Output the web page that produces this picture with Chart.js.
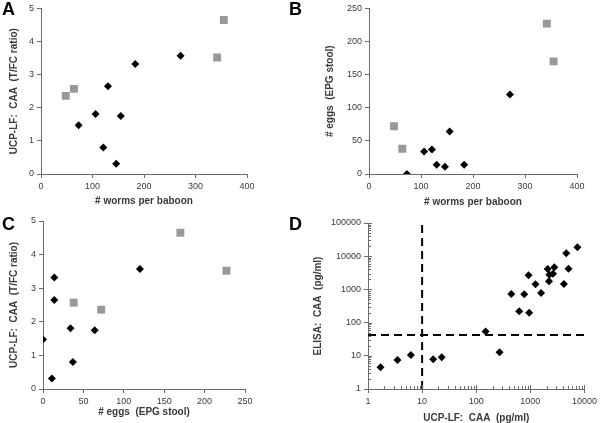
<!DOCTYPE html>
<html>
<head>
<meta charset="utf-8">
<script src="https://cdn.jsdelivr.net/npm/chart.js@4.4.1/dist/chart.umd.min.js"></script>
<style>
  html, body { margin:0; padding:0; background:#fff; }
  #wrap { position:relative; width:600px; height:423px; overflow:hidden; }
  .pane { position:absolute; }
  .lbl { position:absolute; font-family:"Liberation Sans", Arial, sans-serif; font-weight:bold; font-size:18px; line-height:18px; color:#000; }
</style>
</head>
<body>
<div id="wrap">
  <div class="pane" style="left:0;top:0;width:300px;height:210px"><canvas id="cA"></canvas></div>
  <div class="pane" style="left:300px;top:0;width:300px;height:210px"><canvas id="cB"></canvas></div>
  <div class="pane" style="left:0;top:210px;width:300px;height:213px"><canvas id="cC"></canvas></div>
  <div class="pane" style="left:300px;top:210px;width:300px;height:213px"><canvas id="cD"></canvas></div>
  <div class="lbl" style="left:2px;top:0px">A</div>
  <div class="lbl" style="left:289px;top:0px">B</div>
  <div class="lbl" style="left:2px;top:215px">C</div>
  <div class="lbl" style="left:289px;top:215px">D</div>
</div>
<script>
// ---- Data ----
// Black diamonds (baboons group 1)
const wormsBlack = [73, 106, 121, 130, 146, 155, 183, 271];
const eggsBlack  = [0, 34, 37, 14, 11, 64, 14, 120];
const ucpBlack   = [1.47, 1.81, 0.80, 2.65, 0.31, 1.75, 3.32, 3.57];
// Grey squares (baboons group 2)
const wormsGrey = [48, 64, 342, 355];
const eggsGrey  = [72, 38, 227, 170];
const ucpGrey   = [2.36, 2.57, 3.52, 4.65];
// Panel D: UCP-LF CAA vs ELISA CAA (pg/ml)
const dUcp   = [1.7, 3.5, 6.2, 16, 23, 149, 270, 445, 624, 771, 927, 951, 1245, 1578, 2091, 2208, 2248, 2618, 2773, 4160, 4603, 5070, 7413];
const dElisa = [4.5, 7.5, 10.5, 7.9, 9.0, 54, 12.8, 726, 218, 711, 2667, 198, 1426, 778, 4130, 1757, 2780, 2980, 4656, 1455, 12330, 4220, 18700];
const dCutX = 10;
const dCutY = 42;
// Axis titles
const tWorms = '# worms per baboon';
const tUcp = 'UCP-LF:  CAA  (T/FC ratio)';
const tEggs = '# eggs  (EPG stool)';
const tEggsC = '# eggs  (EPG stool)';
const tElisa = 'ELISA:  CAA  (pg/ml)';
const tUcpD = 'UCP-LF:  CAA  (pg/ml)';

const FONT = '"Liberation Sans", Arial, sans-serif';
const AXIS = '#6b6b6b';
const TXT = '#3a3a3a';
const BLACK = '#000000';
const GREY = '#999999';

function pts(xs, ys){ return xs.map((x,i)=>({x:x, y:ys[i]})); }

function linAxis(min, max, step, title, titlePad, fixed, isX){
  return {
    type:'linear', min:min, max:max,
    ticks:{ stepSize:step, color:TXT, font:{family:FONT, size:9}, padding:3, maxRotation:0, minRotation:0 },
    grid:{ display:true, drawOnChartArea:false, drawTicks:true, tickLength:4, color:AXIS },
    border:{ display:true, color:AXIS, width:1 },
    title:{ display:true, text:title, color:TXT, font:{family:FONT, size:10, weight:'bold', lineHeight:1.2}, padding:titlePad },
    afterFit:(s)=>{ if(isX) s.height = fixed; else s.width = fixed; }
  };
}

function scatterSets(xb, yb, xg, yg){
  return [
    { data: pts(xb, yb), pointStyle:'rectRot', pointRadius:4, backgroundColor:BLACK, borderColor:BLACK, borderWidth:0 },
    { data: pts(xg, yg), pointStyle:'rect', pointRadius:5.6, backgroundColor:GREY, borderColor:GREY, borderWidth:0 }
  ];
}

function baseOpts(pad, scales){
  return {
    responsive:true, maintainAspectRatio:false, animation:false, devicePixelRatio:1,
    layout:{ padding: pad },
    plugins:{ legend:{display:false}, tooltip:{enabled:false} },
    scales: scales
  };
}

// Panel A
new Chart(document.getElementById('cA'), {
  type:'scatter',
  data:{ datasets: scatterSets(wormsBlack, ucpBlack, wormsGrey, ucpGrey) },
  options: baseOpts({left:0, top:6, right:53, bottom:0}, {
    x: linAxis(0, 400, 100, tWorms, {top:0, bottom:3}, 36, true),
    y: linAxis(0, 5, 1, tUcp, {top:8, bottom:0}, 41, false)
  })
});

// Panel B
new Chart(document.getElementById('cB'), {
  type:'scatter',
  data:{ datasets: scatterSets(wormsBlack, eggsBlack, wormsGrey, eggsGrey) },
  options: baseOpts({left:0, top:5, right:23, bottom:0}, {
    x: linAxis(0, 400, 100, tWorms, {top:0, bottom:2}, 36, true),
    y: linAxis(0, 250, 50, tEggs, {top:24, bottom:0}, 69, false)
  })
});

// Panel C
new Chart(document.getElementById('cC'), {
  type:'scatter',
  data:{ datasets: scatterSets(eggsBlack, ucpBlack, eggsGrey, ucpGrey) },
  options: baseOpts({left:0, top:11, right:55, bottom:0}, {
    x: linAxis(0, 250, 50, tEggsC, {top:0, bottom:5}, 34, true),
    y: linAxis(0, 5, 1, tUcp, {top:8, bottom:0}, 43, false)
  })
});

// Panel D (log-log)
function isPow10(v){ const l = Math.log10(v); return Math.abs(l - Math.round(l)) < 1e-9; }
function logTicks(minExp, maxExp){
  const t = [];
  for (let e = minExp; e <= maxExp; e++){
    for (let k = 1; k <= 9; k++){
      const v = k * Math.pow(10, e);
      if (e === maxExp && k > 1) break;
      t.push({ value: v, major: k === 1 });
    }
  }
  return t;
}
function logAxis(minExp, maxExp, title, titlePad, fixed, isX){
  return {
    type:'logarithmic', min:Math.pow(10,minExp), max:Math.pow(10,maxExp),
    afterBuildTicks:(s)=>{ s.ticks = logTicks(minExp, maxExp); },
    ticks:{ autoSkip:false, maxRotation:0, minRotation:0, color:TXT, font:{family:FONT, size:9}, padding:3,
            callback:(v)=> isPow10(v) ? String(Math.round(v)) : '' },
    grid:{ display:true, drawOnChartArea:false, drawTicks:true, tickLength:4,
           color:AXIS, tickColor:(ctx)=> (ctx.tick && isPow10(ctx.tick.value)) ? AXIS : 'rgba(0,0,0,0)' },
    border:{ display:true, color:AXIS, width:1 },
    title:{ display:true, text:title, color:TXT, font:{family:FONT, size:10, weight:'bold', lineHeight:1.2}, padding:titlePad },
    afterFit:(s)=>{ if(isX) s.height = fixed; else s.width = fixed; }
  };
}
const minorTicks = {
  id:'minorTicks',
  afterDraw(chart){
    const ctx = chart.ctx, xs = chart.scales.x, ys = chart.scales.y;
    ctx.save();
    ctx.strokeStyle = AXIS; ctx.lineWidth = 1;
    ctx.beginPath();
    xs.ticks.forEach(t=>{
      const px = Math.round(xs.getPixelForValue(t.value)) + 0.5;
      const len = isPow10(t.value) ? 4 : 3;
      ctx.moveTo(px, xs.top); ctx.lineTo(px, xs.top - len);
    });
    ys.ticks.forEach(t=>{
      const py = Math.round(ys.getPixelForValue(t.value)) + 0.5;
      const len = isPow10(t.value) ? 4 : 3;
      ctx.moveTo(ys.right, py); ctx.lineTo(ys.right + len, py);
    });
    ctx.stroke();
    ctx.restore();
  }
};
new Chart(document.getElementById('cD'), {
  type:'scatter',
  data:{ datasets: [
    { type:'line', data:[{x:dCutX, y:1},{x:dCutX, y:100000}], borderColor:'#000', borderWidth:2, borderDash:[8,5], pointRadius:0, fill:false },
    { type:'line', data:[{x:1, y:dCutY},{x:10000, y:dCutY}], borderColor:'#000', borderWidth:2, borderDash:[8,5], pointRadius:0, fill:false },
    { data: pts(dUcp, dElisa), pointStyle:'rectRot', pointRadius:4, backgroundColor:BLACK, borderColor:BLACK, borderWidth:0 }
  ]},
  options: baseOpts({left:0, top:13, right:14, bottom:0}, {
    x: logAxis(0, 4, tUcpD, {top:0, bottom:-1}, 34, true),
    y: logAxis(0, 5, tElisa, {top:12, bottom:0}, 68, false)
  }),
  plugins:[minorTicks]
});
</script>
</body>
</html>
